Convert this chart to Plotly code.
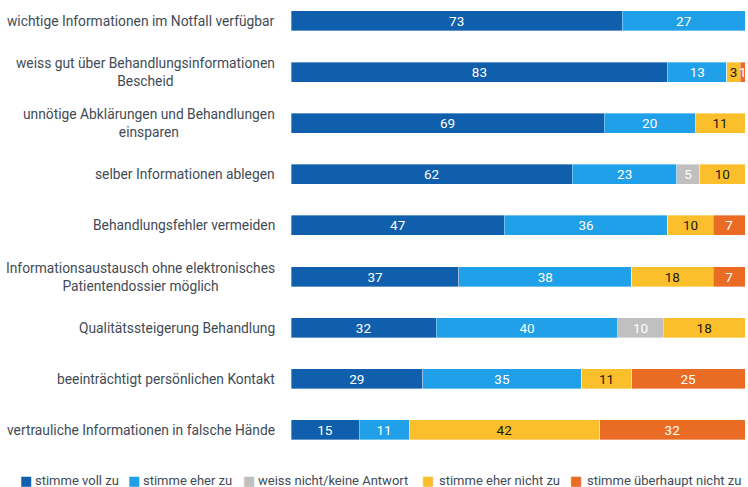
import plotly.graph_objects as go

categories = [
    "wichtige Informationen im Notfall verfügbar",
    "weiss gut über Behandlungsinformationen<br>Bescheid",
    "unnötige Abklärungen und Behandlungen<br>einsparen",
    "selber Informationen ablegen",
    "Behandlungsfehler vermeiden",
    "Informationsaustausch ohne elektronisches<br>Patientendossier möglich",
    "Qualitätssteigerung Behandlung",
    "beeinträchtigt persönlichen Kontakt",
    "vertrauliche Informationen in falsche Hände",
]
series_names = ["stimme voll zu", "stimme eher zu", "weiss nicht/keine Antwort",
                "stimme eher nicht zu", "stimme überhaupt nicht zu"]
voll_zu = [73, 83, 69, 62, 47, 37, 32, 29, 15]
eher_zu = [27, 13, 20, 23, 36, 38, 40, 35, 11]
weiss_nicht = [0, 0, 0, 5, 0, 0, 10, 0, 0]
eher_nicht = [0, 3, 11, 10, 10, 18, 18, 11, 42]
ueberhaupt_nicht = [0, 1, 0, 0, 7, 7, 0, 25, 32]

values = [voll_zu, eher_zu, weiss_nicht, eher_nicht, ueberhaupt_nicht]
colors = ["#0f5fad", "#1fa0e8", "#c0c0c0", "#fabf2a", "#e96b24"]
text_colors = ["white", "white", "white", "#1a1a1a", "white"]

FONT = "Roboto, Lato, sans-serif"
TXT = "#3f4b56"

W, H = 748, 487
ML, MR, MT, MB = 291, 3, 0, 32
PW, PH = W - ML - MR, H - MT - MB

fig = go.Figure()
ypos = list(range(len(categories)))
for name, vals, col, tcol in zip(series_names, values, colors, text_colors):
    fig.add_trace(go.Bar(
        x=vals, y=ypos, orientation="h", name=name,
        marker=dict(color=col, line=dict(color="rgba(255,255,255,0.6)", width=0.6)),
        text=[str(v) if v else "" for v in vals],
        textposition="inside", insidetextanchor="middle",
        constraintext="none", textangle=0,
        textfont=dict(color=tcol, size=13.5, family=FONT),
        hoverinfo="skip", showlegend=False,
    ))

for i, c in enumerate(categories):
    fig.add_annotation(x=0, y=i, xref="paper", yref="y", text=c,
                       xanchor="right", yanchor="middle", align="center",
                       xshift=-14, showarrow=False,
                       font=dict(size=13.8, color=TXT, family=FONT))

# legend drawn as annotations (one row, running past the right edge like the original)
marker_px = [23, 131, 246, 425, 573]
text_px = [35, 143, 258, 439, 587]
legend_y = -(480.5 - (H - MB)) / PH
for name, col, mx, tx in zip(series_names, colors, marker_px, text_px):
    fig.add_annotation(
        x=(mx - ML) / PW, y=legend_y, xref="paper", yref="paper",
        xanchor="left", yanchor="middle", showarrow=False,
        text="■", font=dict(size=13, color=col, family="DejaVu Sans"),
        borderpad=0, xshift=-4,
    )
    fig.add_annotation(
        x=(tx - ML) / PW, y=legend_y, xref="paper", yref="paper",
        xanchor="left", yanchor="middle", showarrow=False,
        text=name, font=dict(size=13, color=TXT, family=FONT),
        borderpad=0, xshift=-1,
    )

fig.update_layout(
    width=W, height=H,
    barmode="stack", bargap=0.61,
    plot_bgcolor="white", paper_bgcolor="white",
    margin=dict(l=ML, r=MR, t=MT, b=MB),
    font=dict(family=FONT, color=TXT, size=13),
    showlegend=False,
    xaxis=dict(range=[0, 100], visible=False, fixedrange=True),
    yaxis=dict(range=[8.49, -0.41], visible=False, fixedrange=True),
)

fig.write_html("out.html", config={"displayModeBar": False},
               post_script="document.body.style.margin='0';")
